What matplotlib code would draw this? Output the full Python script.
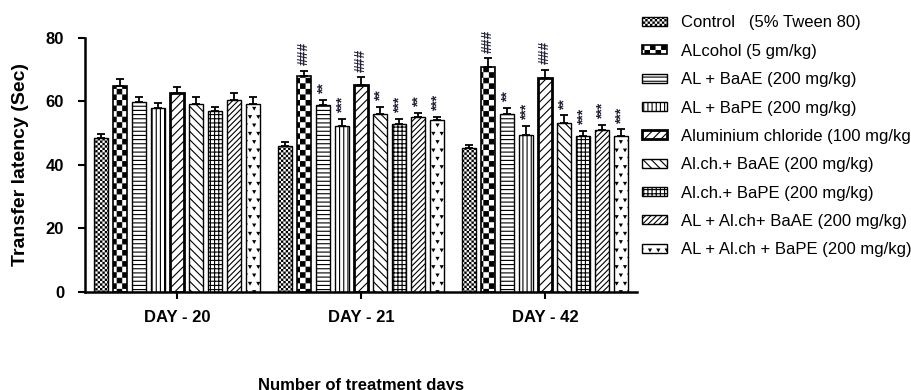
import warnings
import numpy as np
import matplotlib
matplotlib.use('Agg')
import matplotlib.pyplot as plt
import matplotlib.hatch as mhatch
from matplotlib.path import Path

warnings.filterwarnings('ignore', category=matplotlib.MatplotlibDeprecationWarning)

# Data
days = ['DAY - 20', 'DAY - 21', 'DAY - 42']
groups = ['Control   (5% Tween 80)', 'ALcohol (5 gm/kg)', 'AL + BaAE (200 mg/kg)',
          'AL + BaPE (200 mg/kg)', 'Aluminium chloride (100 mg/kg)',
          'Al.ch.+ BaAE (200 mg/kg)', 'Al.ch.+ BaPE (200 mg/kg)',
          'AL + Al.ch+ BaAE (200 mg/kg)', 'AL + Al.ch + BaPE (200 mg/kg)']

control = [48.4, 46.0, 45.3]
alcohol = [65.0, 68.1, 71.0]
al_baae = [59.9, 58.9, 56.1]
al_bape = [58.1, 52.3, 49.4]
alcl = [62.6, 65.2, 67.5]
alch_baae = [59.2, 56.1, 53.3]
alch_bape = [57.0, 52.9, 49.1]
al_alch_baae = [60.4, 55.2, 51.0]
al_alch_bape = [59.2, 54.2, 49.1]

control_err = [1.3, 1.2, 1.0]
alcohol_err = [2.0, 1.6, 2.6]
al_baae_err = [1.6, 1.6, 2.0]
al_bape_err = [1.5, 2.3, 2.9]
alcl_err = [1.9, 2.4, 2.4]
alch_baae_err = [2.3, 2.3, 2.4]
alch_bape_err = [1.4, 1.6, 1.6]
al_alch_baae_err = [2.4, 1.3, 1.6]
al_alch_bape_err = [2.3, 1.0, 2.1]

# significance marks per series, one per day
control_sig = ['', '', '']
alcohol_sig = ['', '###', '###']
al_baae_sig = ['', '**', '**']
al_bape_sig = ['', '***', '***']
alcl_sig = ['', '###', '###']
alch_baae_sig = ['', '**', '**']
alch_bape_sig = ['', '***', '***']
al_alch_baae_sig = ['', '**', '***']
al_alch_bape_sig = ['', '***', '***']

means = [control, alcohol, al_baae, al_bape, alcl, alch_baae, alch_bape, al_alch_baae, al_alch_bape]
errs = [control_err, alcohol_err, al_baae_err, al_bape_err, alcl_err, alch_baae_err,
        alch_bape_err, al_alch_baae_err, al_alch_bape_err]
sigs = [control_sig, alcohol_sig, al_baae_sig, al_bape_sig, alcl_sig, alch_baae_sig,
        alch_bape_sig, al_alch_baae_sig, al_alch_bape_sig]


# extra hatch patterns: 'c' = checkerboard, 'v' = small v marks
class CheckerHatch(mhatch.HatchPatternBase):
    def __init__(self, hatch, density):
        n = hatch.count('c') * density
        self.num_cells = n
        self.cells = [(i, j) for i in range(n) for j in range(n) if (i + j) % 2 == 0]
        self.num_vertices = len(self.cells) * 5

    def set_vertices_and_codes(self, vertices, codes):
        s = 1.0 / self.num_cells
        inset = plt.rcParams['hatch.linewidth'] / 144.0  # the hatch is also stroked
        sq = np.array([[0, 0], [1, 0], [1, 1], [0, 1], [0, 0]], dtype=float)
        for k, (i, j) in enumerate(self.cells):
            v = (sq + [i, j]) * s
            v[[0, 3, 4], 0] += inset
            v[[1, 2], 0] -= inset
            v[[0, 1, 4], 1] += inset
            v[[2, 3], 1] -= inset
            vertices[5 * k:5 * k + 5] = v
            codes[5 * k:5 * k + 5] = [Path.MOVETO, Path.LINETO, Path.LINETO,
                                      Path.LINETO, Path.CLOSEPOLY]


class VeeHatch(mhatch.Shapes):
    size = 0.28
    filled = True

    def __init__(self, hatch, density):
        self.num_rows = hatch.count('v') * density
        self.shape_vertices = np.array([[-0.5, 0.4], [0.5, 0.4], [0.0, -0.5], [-0.5, 0.4]])
        self.shape_codes = np.array([Path.MOVETO, Path.LINETO, Path.LINETO, Path.CLOSEPOLY],
                                    dtype=Path.code_type)
        super().__init__(hatch, density)


mhatch._hatch_types.extend([CheckerHatch, VeeHatch])

plt.rcParams['font.family'] = 'Liberation Sans'
plt.rcParams['hatch.linewidth'] = 0.8

hatches = ['ccccccc', 'ccc', '----', '||||', '////', '\\\\\\\\', '++++', '//////', 'vv']
edge_widths = [1.0, 1.2, 1.0, 1.0, 2.0, 1.0, 1.0, 1.0, 1.0]

fig = plt.figure(figsize=(9.12, 3.9), dpi=100)
ax = fig.add_axes([0.0932, 0.2513, 0.6053, 0.6513])

x = np.arange(len(days))
step = 0.1033
width = 0.0734

for i in range(len(groups)):
    pos = x + (i - 4) * step
    ax.bar(pos, means[i], width, yerr=[np.zeros(3), errs[i]], color='white',
           edgecolor='black', linewidth=edge_widths[i], hatch=hatches[i], label=groups[i],
           error_kw=dict(ecolor='black', elinewidth=1.3, capsize=3.2, capthick=1.3))
    for j in range(len(days)):
        if sigs[i][j]:
            ax.annotate(sigs[i][j], (pos[j], means[i][j] + errs[i][j]), xytext=(0, 4),
                        textcoords='offset points', rotation=90, ha='center', va='bottom',
                        fontsize=10, fontweight='bold', color='#202036')

ax.set_xlim(-0.5, 2.5)
ax.set_ylim(0, 80)
ax.set_yticks([0, 20, 40, 60, 80])
ax.set_xticks(x)
ax.set_xticklabels(days)
for lab in ax.get_xticklabels() + ax.get_yticklabels():
    lab.set_fontweight('bold')
    lab.set_fontsize(12)
ax.tick_params(axis='both', direction='out', length=5, width=1.5)
ax.tick_params(axis='x', pad=8)
ax.tick_params(axis='y', pad=10)
ax.spines['top'].set_visible(False)
ax.spines['right'].set_visible(False)
ax.spines['left'].set_linewidth(1.8)
ax.spines['bottom'].set_linewidth(1.8)

ax.set_ylabel('Transfer latency (Sec)', fontsize=14, fontweight='bold', labelpad=12)
fig.text(0.396, 1 - 378 / 390, 'Number of treatment days', ha='center', va='top',
         fontsize=12, fontweight='bold')

ax.legend(loc='upper left', bbox_to_anchor=(642 / 912, 1 - 15.5 / 390),
          bbox_transform=fig.transFigure, frameon=False, fontsize=12,
          handlelength=1.5, handleheight=0.45, handletextpad=0.84,
          labelspacing=0.80, borderpad=0, borderaxespad=0)

plt.savefig('out.png', dpi=100)
